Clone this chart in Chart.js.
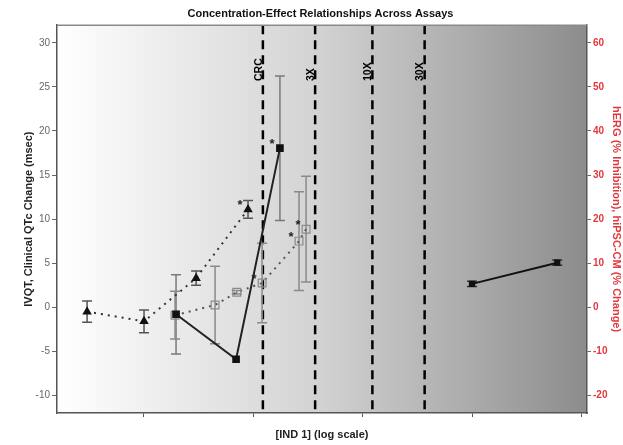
<!DOCTYPE html>
<html>
<head>
<meta charset="utf-8">
<script src="https://cdn.jsdelivr.net/npm/chart.js@4"></script>
<style>
  html, body { margin: 0; padding: 0; background: #fff; }
  #wrap { width: 623px; height: 445px; }
</style>
</head>
<body>
<div id="wrap"><canvas id="chart"></canvas></div>
<script>
// x ticks (decades, unlabeled) and y ticks
const xTicks = [0.1, 1, 10, 100, 1000];
const leftTicks = [-10, -5, 0, 5, 10, 15, 20, 25, 30];
const rightTicks = [-20, -10, 0, 10, 20, 30, 40, 50, 60];

// exposure multiples
const refValues = [1.23, 3.69, 12.3, 36.9];
const refLabels = ['CRC', '3X', '10X', '30X'];

// triangles, dotted (left axis, msec)
const triX = [0.0305, 0.101, 0.302, 0.90];
const triY = [-0.5, -1.6, 3.3, 11.1];
const triErr = [1.2, 1.3, 0.8, 1.0];
const triStar = [false, false, false, true];

// filled squares, solid (right axis, %)
const filledX = [0.198, 0.70, 1.76];
const filledY = [-1.6, -11.8, 36.1];
const filledErr = [9.0, 0, 16.4];
const filledStar = [false, false, true];

// open squares, dotted (right axis, %)
const openX = [0.194, 0.45, 0.71, 1.21, 2.63, 3.05];
const openY = [-1.8, 0.5, 3.4, 5.5, 15.0, 17.7];
const openErr = [5.4, 8.8, 0.4, 9.0, 11.2, 12.0];
const openStar = [false, false, false, true, true, true];

// high concentration pair (left axis, msec)
const farX = [100, 600];
const farY = [2.65, 5.05];
const farErr = [0.3, 0.3];

const FONT = '"Liberation Sans", Arial, sans-serif';
const RED = '#e0383e';

function pts(xs, ys) {
    return xs.map((x, i) => ({ x: x, y: ys[i] }));
}

const backgroundPlugin = {
    id: 'background',
    beforeDraw(chart) {
        const { ctx, chartArea: a } = chart;
        const g = ctx.createLinearGradient(a.left, 0, a.right, 0);
        g.addColorStop(0, '#ffffff');
        g.addColorStop(0.5, '#d2d2d2');
        g.addColorStop(1, '#8c8c8c');
        ctx.save();
        ctx.fillStyle = g;
        ctx.fillRect(a.left, a.top, a.right - a.left, a.bottom - a.top);
        ctx.restore();
    }
};

const refLinePlugin = {
    id: 'refLines',
    beforeDatasetsDraw(chart) {
        const { ctx, chartArea: a, scales } = chart;
        ctx.save();
        refValues.forEach((v, i) => {
            const px = scales.x.getPixelForValue(v);
            ctx.strokeStyle = '#000';
            ctx.lineWidth = 2.5;
            ctx.setLineDash([9, 6]);
            ctx.beginPath();
            ctx.moveTo(px, a.top);
            ctx.lineTo(px, a.bottom);
            ctx.stroke();

            ctx.save();
            ctx.translate(px + 1, 81);
            ctx.rotate(-Math.PI / 2);
            ctx.fillStyle = '#000';
            ctx.font = 'bold 10.5px ' + FONT;
            ctx.textAlign = 'left';
            ctx.textBaseline = 'bottom';
            ctx.fillText(refLabels[i], 0, 0);
            ctx.restore();
        });
        ctx.restore();
    }
};

const errorBarPlugin = {
    id: 'errorBars',
    beforeDatasetsDraw(chart) {
        const { ctx } = chart;
        ctx.save();
        ctx.setLineDash([]);
        chart.data.datasets.forEach((ds, di) => {
            if (!ds.errors) return;
            const meta = chart.getDatasetMeta(di);
            const yScale = chart.scales[ds.yAxisID];
            ctx.strokeStyle = ds.errColor;
            ctx.lineWidth = 1.5;
            meta.data.forEach((el, i) => {
                const e = ds.errors[i];
                if (!e) return;
                const v = ds.data[i].y;
                const top = yScale.getPixelForValue(v + e);
                const bot = yScale.getPixelForValue(v - e);
                ctx.beginPath();
                ctx.moveTo(el.x, top);
                ctx.lineTo(el.x, bot);
                ctx.moveTo(el.x - 5, top);
                ctx.lineTo(el.x + 5, top);
                ctx.moveTo(el.x - 5, bot);
                ctx.lineTo(el.x + 5, bot);
                ctx.stroke();
            });
        });
        ctx.restore();
    },
    afterDatasetsDraw(chart) {
        const { ctx } = chart;
        ctx.save();
        ctx.fillStyle = '#222';
        ctx.font = 'bold 13px ' + FONT;
        ctx.textAlign = 'center';
        ctx.textBaseline = 'middle';
        chart.data.datasets.forEach((ds, di) => {
            if (!ds.stars) return;
            const meta = chart.getDatasetMeta(di);
            meta.data.forEach((el, i) => {
                if (ds.stars[i]) ctx.fillText('*', el.x - 8, el.y - 4);
            });
        });
        // top frame
        const a = chart.chartArea;
        ctx.strokeStyle = '#8a8a8a';
        ctx.lineWidth = 1.5;
        ctx.beginPath();
        ctx.moveTo(a.left, a.top);
        ctx.lineTo(a.right, a.top);
        ctx.stroke();
        ctx.restore();
    }
};

new Chart(document.getElementById('chart'), {
    type: 'line',
    data: {
        datasets: [
            {
                data: pts(filledX, filledY),
                yAxisID: 'y2',
                errors: filledErr,
                errColor: '#7a7a7a',
                stars: filledStar,
                borderColor: '#222',
                borderWidth: 2,
                pointStyle: 'rect',
                pointRadius: 4,
                pointBackgroundColor: '#111',
                pointBorderColor: '#111',
                tension: 0
            },
            {
                data: pts(triX, triY),
                yAxisID: 'y',
                errors: triErr,
                errColor: '#555',
                stars: triStar,
                borderColor: '#333',
                borderWidth: 2,
                borderDash: [2, 5],
                pointStyle: 'triangle',
                pointRadius: 3.5,
                pointBackgroundColor: '#111',
                pointBorderColor: '#111',
                tension: 0
            },
            {
                data: pts(openX, openY),
                yAxisID: 'y2',
                errors: openErr,
                errColor: '#8a8a8a',
                stars: openStar,
                borderColor: '#555',
                borderWidth: 2,
                borderDash: [2, 5],
                pointStyle: 'rect',
                pointRadius: 5.5,
                pointBackgroundColor: 'rgba(0,0,0,0)',
                pointBorderColor: '#8a8a8a',
                pointBorderWidth: 1.2,
                tension: 0
            },
            {
                data: pts(farX, farY),
                yAxisID: 'y',
                errors: farErr,
                errColor: '#333',
                borderColor: '#111',
                borderWidth: 2,
                pointStyle: 'rect',
                pointRadius: 3,
                pointBackgroundColor: '#111',
                pointBorderColor: '#111',
                tension: 0
            }
        ]
    },
    options: {
        responsive: true,
        maintainAspectRatio: false,
        animation: false,
        layout: { padding: { left: 18, right: 0, top: 0, bottom: 0 } },
        plugins: {
            legend: { display: false },
            tooltip: { enabled: false },
            title: {
                display: true,
                text: 'Concentration-Effect Relationships Across Assays',
                color: '#111',
                font: { family: FONT, size: 11, weight: 'bold' },
                padding: { top: 7, bottom: 5 }
            }
        },
        scales: {
            x: {
                type: 'logarithmic',
                min: 0.0162,
                max: 1122,
                afterBuildTicks: s => { s.ticks = xTicks.map(v => ({ value: v })); },
                afterFit: s => { s.height = 32; },
                ticks: { callback: () => '', padding: 0 },
                grid: { drawOnChartArea: false, drawTicks: true, tickLength: 4, color: '#555' },
                border: { display: true, color: '#555', width: 1.5 },
                title: {
                    display: true,
                    text: '[IND 1] (log scale)',
                    color: '#222',
                    font: { family: FONT, size: 11, weight: 'bold' },
                    padding: { top: 0, bottom: 3 }
                }
            },
            y: {
                type: 'linear',
                position: 'left',
                min: -12,
                max: 32,
                afterBuildTicks: s => { s.ticks = leftTicks.map(v => ({ value: v })); },
                afterFit: s => { s.width = 39; },
                ticks: { color: '#666', font: { family: FONT, size: 10 }, padding: 2 },
                grid: { drawOnChartArea: false, drawTicks: true, tickLength: 5, color: '#666' },
                border: { display: true, color: '#555', width: 1.5 },
                title: {
                    display: true,
                    text: 'IVQT, Clinical QTc Change (msec)',
                    color: '#222',
                    font: { family: FONT, size: 11, weight: 'bold' },
                    padding: { top: 4, bottom: 0 }
                }
            },
            y2: {
                type: 'linear',
                position: 'right',
                min: -24,
                max: 64,
                afterBuildTicks: s => { s.ticks = rightTicks.map(v => ({ value: v })); },
                afterFit: s => { s.width = 36; },
                ticks: { color: RED, font: { family: FONT, size: 10, weight: 'bold' }, padding: 2 },
                grid: { drawOnChartArea: false, drawTicks: true, tickLength: 4, color: '#666' },
                border: { display: true, color: '#555', width: 1.5 },
                title: {
                    display: true,
                    text: 'hERG (% Inhibition), hiPSC-CM (% Change)',
                    color: RED,
                    font: { family: FONT, size: 11, weight: 'bold' },
                    padding: { top: 0, bottom: 0 }
                }
            }
        }
    },
    plugins: [backgroundPlugin, refLinePlugin, errorBarPlugin]
});
</script>
</body>
</html>
